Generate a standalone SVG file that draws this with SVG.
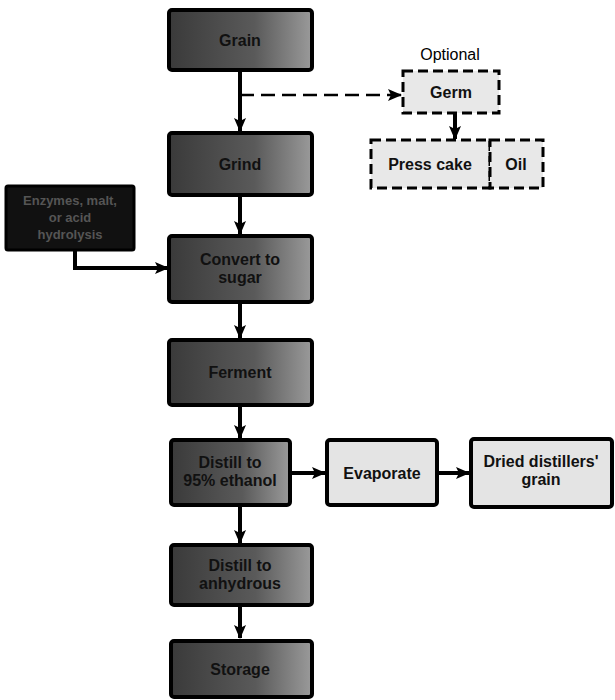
<svg xmlns="http://www.w3.org/2000/svg" width="615" height="700" viewBox="0 0 615 700">
<defs>
  <linearGradient id="dark" x1="0" y1="0" x2="1" y2="0">
    <stop offset="0" stop-color="#3a3a3a"/>
    <stop offset="0.6" stop-color="#5a5a5a"/>
    <stop offset="1" stop-color="#9a9a9a"/>
  </linearGradient>
  <marker id="ah" viewBox="0 0 14 12" refX="13" refY="6" markerWidth="14" markerHeight="12" markerUnits="userSpaceOnUse" orient="auto">
    <path d="M0,0 L14,6 L0,12 L3,6 Z" fill="#000"/>
  </marker>
  <style>
    .dbox{fill:url(#dark);stroke:#000;stroke-width:4}
    .blk{fill:#111;stroke:#000;stroke-width:3}
    .lbox{fill:#e4e4e4;stroke:#000;stroke-width:4}
    .dash{fill:#e8e8e8;stroke:#000;stroke-width:3;stroke-dasharray:10 5}
    .t{font-family:"Liberation Sans",Arial,sans-serif;font-weight:bold;font-size:16px;text-anchor:middle;fill:#111}
    .tw{font-family:"Liberation Sans",Arial,sans-serif;font-weight:bold;font-size:13px;text-anchor:middle;fill:#555}
    .opt{font-family:"Liberation Sans",Arial,sans-serif;font-size:16px;text-anchor:middle;fill:#000}
    .c{fill:none;stroke:#000;stroke-width:4}
    .cd{fill:none;stroke:#000;stroke-width:2.5;stroke-dasharray:14 7}
  </style>
</defs>
<g id="connectors">
  <line class="c" x1="240" y1="70" x2="240" y2="131" marker-end="url(#ah)"/>
  <line class="cd" x1="240" y1="95" x2="401" y2="95" marker-end="url(#ah)"/>
  <line class="c" x1="455" y1="113" x2="455" y2="139" marker-end="url(#ah)"/>
  <line class="c" x1="240" y1="195" x2="240" y2="234" marker-end="url(#ah)"/>
  <polyline class="c" points="75,250 75,268 168,268" marker-end="url(#ah)"/>
  <line class="c" x1="240" y1="302" x2="240" y2="338" marker-end="url(#ah)"/>
  <line class="c" x1="240" y1="405" x2="240" y2="438" marker-end="url(#ah)"/>
  <line class="c" x1="290" y1="473" x2="325" y2="473" marker-end="url(#ah)"/>
  <line class="c" x1="437" y1="473" x2="469" y2="473" marker-end="url(#ah)"/>
  <line class="c" x1="240" y1="505" x2="240" y2="543" marker-end="url(#ah)"/>
  <line class="c" x1="240" y1="605" x2="240" y2="638" marker-end="url(#ah)"/>
</g>
<g id="grain">
  <rect class="dbox" x="169" y="10" width="143" height="60" rx="3"/>
  <text class="t" x="240" y="46">Grain</text>
</g>
<g id="optional">
  <text class="opt" x="450" y="60">Optional</text>
</g>
<g id="germ">
  <rect class="dash" x="403" y="71" width="96" height="42"/>
  <text class="t" x="451" y="98">Germ</text>
</g>
<g id="presscake">
  <rect class="dash" x="371" y="140" width="119" height="48"/>
  <text class="t" x="430" y="170">Press cake</text>
</g>
<g id="oil">
  <rect class="dash" x="490" y="140" width="53" height="48"/>
  <text class="t" x="516" y="170">Oil</text>
</g>
<g id="grind">
  <rect class="dbox" x="169" y="133" width="143" height="62" rx="3"/>
  <text class="t" x="240" y="170">Grind</text>
</g>
<g id="enzymes">
  <rect class="blk" x="6" y="186" width="128" height="64" rx="2"/>
  <text class="tw" x="70" y="205">Enzymes, malt,</text>
  <text class="tw" x="70" y="222">or acid</text>
  <text class="tw" x="70" y="239">hydrolysis</text>
</g>
<g id="convert">
  <rect class="dbox" x="169" y="236" width="143" height="66" rx="3"/>
  <text class="t" x="240" y="265">Convert to</text>
  <text class="t" x="240" y="283">sugar</text>
</g>
<g id="ferment">
  <rect class="dbox" x="169" y="340" width="143" height="65" rx="3"/>
  <text class="t" x="240" y="378">Ferment</text>
</g>
<g id="distill1">
  <rect class="dbox" x="171" y="440" width="119" height="65" rx="3"/>
  <text class="t" x="230" y="468">Distill to</text>
  <text class="t" x="230" y="486">95% ethanol</text>
</g>
<g id="evaporate">
  <rect class="lbox" x="327" y="440" width="110" height="65" rx="3"/>
  <text class="t" x="382" y="479">Evaporate</text>
</g>
<g id="ddg">
  <rect class="lbox" x="471" y="439" width="141" height="68" rx="3"/>
  <text class="t" x="541" y="467">Dried distillers'</text>
  <text class="t" x="541" y="485">grain</text>
</g>
<g id="distill2">
  <rect class="dbox" x="171" y="545" width="141" height="60" rx="3"/>
  <text class="t" x="240" y="571">Distill to</text>
  <text class="t" x="240" y="589">anhydrous</text>
</g>
<g id="storage">
  <rect class="dbox" x="171" y="641" width="141" height="56" rx="3"/>
  <text class="t" x="240" y="675">Storage</text>
</g>
</svg>
